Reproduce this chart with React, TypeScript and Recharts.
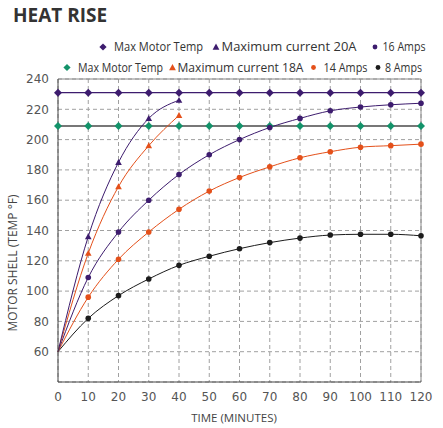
import React from "react";
import {
  LineChart,
  Line,
  XAxis,
  YAxis,
  CartesianGrid,
  ReferenceLine,
} from "recharts";

// minutes
const time = [0, 10, 20, 30, 40, 50, 60, 70, 80, 90, 100, 110, 120];

// horizontal limits
const maxTemp20A = [231, 231, 231, 231, 231, 231, 231, 231, 231, 231, 231, 231, 231];
const maxTemp18A = [209, 209, 209, 209, 209, 209, 209, 209, 209, 209, 209, 209, 209];

// motor shell temperature (°F)
const current20A = [60, 136, 185, 214, 226];
const current18A = [60, 125, 169, 196, 216];
const amps16 = [60, 109, 139, 160, 177, 190, 200, 208, 214, 219, 221.5, 223, 224];
const amps14 = [60, 96, 121, 139, 154, 166, 175, 182, 188, 192, 195, 196, 197];
const amps8 = [60, 82, 97, 108, 117, 123, 128, 132, 135, 137, 137.5, 137.5, 136.5];

const yTicks = [60, 80, 100, 120, 140, 160, 180, 200, 220, 240];

const PURPLE = "#3d1c6e";
const ORANGE = "#e4501a";
const GREEN = "#13936a";
const BLACK = "#1c1c1c";

const data = time.map((t, i) => ({
  time: t,
  max20: maxTemp20A[i],
  max18: maxTemp18A[i],
  c20: current20A[i] ?? null,
  c18: current18A[i] ?? null,
  a16: amps16[i],
  a14: amps14[i],
  a8: amps8[i],
}));

type Shape = "diamond" | "triangle" | "circle";

function Marker({ shape, x, y, size, color }: { shape: Shape; x: number; y: number; size: number; color: string }) {
  if (shape === "diamond") {
    return <polygon points={`${x},${y - size} ${x + size},${y} ${x},${y + size} ${x - size},${y}`} fill={color} />;
  }
  if (shape === "triangle") {
    return <polygon points={`${x},${y - size} ${x + size},${y + size * 0.8} ${x - size},${y + size * 0.8}`} fill={color} />;
  }
  return <circle cx={x} cy={y} r={size} fill={color} />;
}

const makeDot = (shape: Shape, color: string, size: number, skipFirst: boolean) => (props: any) => {
  const { cx, cy, index, value } = props;
  if (cx == null || cy == null || value == null || (skipFirst && index === 0)) {
    return <g key={`none-${index}`} />;
  }
  return (
    <g key={`dot-${index}`}>
      <Marker shape={shape} x={cx} y={cy} size={size} color={color} />
    </g>
  );
};

// legend layout: marker x, text start, text width
const legendRows = [
  {
    y: 47,
    items: [
      { shape: "diamond" as Shape, color: PURPLE, x: 103, tx: 114, w: 89, label: "Max Motor Temp" },
      { shape: "triangle" as Shape, color: PURPLE, x: 216, tx: 221.5, w: 135, label: "Maximum current 20A" },
      { shape: "circle" as Shape, color: PURPLE, x: 375, tx: 382.5, w: 43, label: "16 Amps" },
    ],
  },
  {
    y: 67.5,
    items: [
      { shape: "diamond" as Shape, color: GREEN, x: 67, tx: 78, w: 85, label: "Max Motor Temp" },
      { shape: "triangle" as Shape, color: ORANGE, x: 172.5, tx: 177.5, w: 126, label: "Maximum current 18A" },
      { shape: "circle" as Shape, color: ORANGE, x: 313.5, tx: 323.5, w: 44, label: "14 Amps" },
      { shape: "circle" as Shape, color: BLACK, x: 378, tx: 385, w: 37, label: "8 Amps" },
    ],
  },
];

const tickStyle = { fontSize: 12, fill: "#555", fontFamily: "DejaVu Sans" };

export default function App() {
  return (
    <div style={{ position: "absolute", left: 0, top: 0, width: 443, height: 428, background: "#fff" }}>
      <LineChart width={443} height={428} data={data} margin={{ top: 79, right: 22, bottom: 0, left: 0 }}>
        <CartesianGrid stroke="#a0a0a0" strokeDasharray="4 3" />
        <XAxis
          dataKey="time"
          type="number"
          domain={[0, 120]}
          ticks={time}
          height={46}
          tickLine={false}
          tickSize={0}
          tickMargin={10}
          tick={tickStyle}
          stroke="#444"
        />
        <YAxis
          type="number"
          domain={[40, 240]}
          ticks={yTicks}
          width={58}
          tickLine={false}
          tickSize={0}
          tickMargin={9}
          tick={tickStyle}
          stroke="#444"
        />
        <ReferenceLine y={240} stroke="#888" />
        <ReferenceLine x={120} stroke="#888" />
        <Line
          dataKey="max18"
          stroke="#4a4a4a"
          strokeWidth={1.4}
          dot={makeDot("diamond", GREEN, 4, false)}
          isAnimationActive={false}
        />
        <Line
          dataKey="max20"
          stroke={PURPLE}
          strokeWidth={1.4}
          dot={makeDot("diamond", PURPLE, 4, false)}
          isAnimationActive={false}
        />
        <Line
          type="monotone"
          dataKey="a8"
          stroke={BLACK}
          strokeWidth={1}
          dot={makeDot("circle", BLACK, 2.8, true)}
          isAnimationActive={false}
        />
        <Line
          type="monotone"
          dataKey="a14"
          stroke={ORANGE}
          strokeWidth={1}
          dot={makeDot("circle", ORANGE, 2.8, true)}
          isAnimationActive={false}
        />
        <Line
          type="monotone"
          dataKey="a16"
          stroke={PURPLE}
          strokeWidth={1}
          dot={makeDot("circle", PURPLE, 2.8, true)}
          isAnimationActive={false}
        />
        <Line
          type="monotone"
          dataKey="c18"
          stroke={ORANGE}
          strokeWidth={1}
          dot={makeDot("triangle", ORANGE, 3.3, true)}
          isAnimationActive={false}
        />
        <Line
          type="monotone"
          dataKey="c20"
          stroke={PURPLE}
          strokeWidth={1}
          dot={makeDot("triangle", PURPLE, 3.3, true)}
          isAnimationActive={false}
        />
      </LineChart>

      <svg
        width={443}
        height={428}
        style={{ position: "absolute", left: 0, top: 0, pointerEvents: "none" }}
      >
        <text x={13} y={22} fontFamily="Open Sans" fontWeight={700} fontSize={19} fill="#333">
          HEAT RISE
        </text>
        {legendRows.map((row, r) => (
          <g key={r}>
            {row.items.map((it, i) => (
              <g key={i}>
                <Marker
                  shape={it.shape}
                  x={it.x}
                  y={row.y}
                  size={it.shape === "diamond" ? 3.6 : it.shape === "triangle" ? 3.4 : 2.4}
                  color={it.color}
                />
                <text
                  x={it.tx}
                  y={row.y + 4.3}
                  textLength={it.w}
                  lengthAdjust="spacingAndGlyphs"
                  fontFamily="Open Sans"
                  fontSize={12.5}
                  fill="#333"
                >
                  {it.label}
                </text>
              </g>
            ))}
          </g>
        ))}
        <text
          transform="rotate(-90)"
          x={-263}
          y={16.5}
          textAnchor="middle"
          fontFamily="Open Sans"
          fontSize={12}
          fill="#444"
        >
          MOTOR SHELL (TEMP °F)
        </text>
        <text x={234} y={422} textAnchor="middle" fontFamily="Open Sans" fontSize={11.5} fill="#444">
          TIME (MINUTES)
        </text>
      </svg>
    </div>
  );
}
